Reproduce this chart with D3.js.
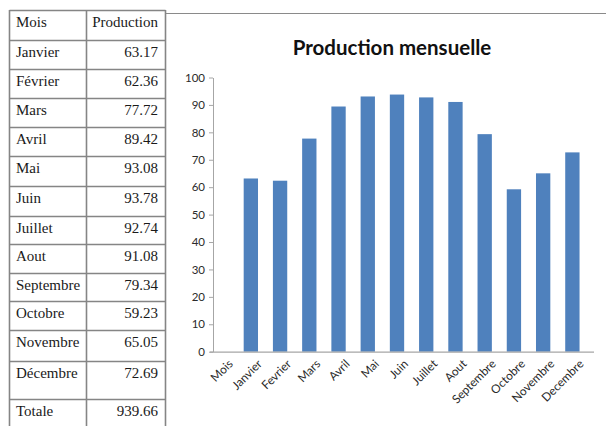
<!DOCTYPE html>
<html lang="fr">
<head>
<meta charset="utf-8">
<script src="https://cdn.jsdelivr.net/npm/d3@7"></script>
<style>
  html, body { margin: 0; padding: 0; background: #fff; }
  svg { display: block; }
</style>
</head>
<body>
<svg id="page" width="606" height="426"></svg>
<script>
// Monthly production: table on the left, column chart on the right.
const tableMonths = ["Janvier", "Février", "Mars", "Avril", "Mai", "Juin",
  "Juillet", "Aout", "Septembre", "Octobre", "Novembre", "Décembre"];
const production = [63.17, 62.36, 77.72, 89.42, 93.08, 93.78,
  92.74, 91.08, 79.34, 59.23, 65.05, 72.69];
const tableHeader = ["Mois", "Production"];
const totalLabel = "Totale";

// The chart's category axis also carries the header cell "Mois" (no value).
const chartCategories = ["Mois", "Janvier", "Fevrier", "Mars", "Avril", "Mai",
  "Juin", "Juillet", "Aout", "Septembre", "Octobre", "Novembre", "Decembre"];
const chartValues = [null].concat(production);
const yTickValues = [0, 10, 20, 30, 40, 50, 60, 70, 80, 90, 100];
const chartTitle = "Production mensuelle";

const svg = d3.select("#page");
svg.append("rect").attr("width", 606).attr("height", 426).attr("fill", "#fff");

// ---------- table ----------
const colX = [9.5, 86.5, 165.5];
const rowTops = [10, 40, 69, 98, 127, 156, 186, 216, 244, 273, 301, 330, 361, 399, 432];
const rows = [tableHeader]
  .concat(tableMonths.map((m, i) => [m, production[i].toFixed(2)]))
  .concat([[totalLabel, d3.sum(production).toFixed(2)]]);

const table = svg.append("g").attr("class", "table");
const lineColor = "#858585";

rowTops.forEach(t => {
  table.append("line")
    .attr("x1", colX[0]).attr("x2", colX[2])
    .attr("y1", t + 0.5).attr("y2", t + 0.5)
    .attr("stroke", lineColor).attr("stroke-width", 1.6);
});
colX.forEach(cx => {
  table.append("line")
    .attr("x1", cx).attr("x2", cx)
    .attr("y1", rowTops[0]).attr("y2", 426)
    .attr("stroke", lineColor).attr("stroke-width", 1.6);
});

const cellFont = "'Liberation Serif', 'Times New Roman', serif";
rows.forEach((r, i) => {
  const base = rowTops[i] + 17;
  table.append("text")
    .attr("x", 16).attr("y", base)
    .attr("font-family", cellFont).attr("font-size", 15)
    .attr("fill", "#1a1a1a")
    .text(r[0]);
  table.append("text")
    .attr("x", 158).attr("y", base)
    .attr("text-anchor", "end")
    .attr("font-family", cellFont).attr("font-size", 15)
    .attr("fill", "#1a1a1a")
    .text(r[1]);
});

// ---------- chart ----------
const chart = svg.append("g").attr("class", "chart");
chart.append("line")
  .attr("x1", 166).attr("x2", 606)
  .attr("y1", 13.5).attr("y2", 13.5)
  .attr("stroke", "#8a8a8a").attr("stroke-width", 1.2);

const chartFont = "Lato, 'Open Sans', sans-serif";
chart.append("text")
  .attr("x", 392).attr("y", 54.5)
  .attr("text-anchor", "middle")
  .attr("font-family", chartFont).attr("font-weight", 700)
  .attr("font-size", 20.5).attr("fill", "#111")
  .text(chartTitle);

const axisX = 213;
const y = d3.scaleLinear().domain([0, 100]).range([351.7, 77.5]);
const x = d3.scaleBand()
  .domain(chartCategories)
  .range([207, 587])
  .paddingInner(0.51)
  .paddingOuter(0.255);

// value axis
const yAxis = chart.append("g")
  .attr("transform", `translate(${axisX},0)`)
  .call(d3.axisLeft(y).tickValues(yTickValues).tickSize(4).tickSizeOuter(0).tickPadding(4));
yAxis.select(".domain").attr("stroke", "#a6a6a6");
yAxis.selectAll(".tick line").attr("stroke", "#a6a6a6");
yAxis.selectAll("text")
  .attr("font-family", chartFont).attr("font-size", 11.5).attr("fill", "#2b2b2b");

// bars
chart.append("g").selectAll("rect")
  .data(chartCategories.map((c, i) => ({ c, v: chartValues[i] })).filter(d => d.v != null))
  .join("rect")
  .attr("x", d => x(d.c))
  .attr("width", x.bandwidth())
  .attr("y", d => y(d.v))
  .attr("height", d => y(0) - y(d.v))
  .attr("fill", "#4f81bd");

// category axis
chart.append("line")
  .attr("x1", axisX - 3).attr("x2", x.range()[1] + 7)
  .attr("y1", y(0) + 0.5).attr("y2", y(0) + 0.5)
  .attr("stroke", "#a6a6a6").attr("stroke-width", 1.2);

const xAxis = chart.append("g")
  .attr("transform", `translate(0,${y(0)})`)
  .call(d3.axisBottom(x).tickSize(0).tickPadding(0));
xAxis.select(".domain").remove();
xAxis.selectAll(".tick text")
  .attr("font-family", chartFont).attr("font-size", 11.8).attr("fill", "#2b2b2b")
  .attr("text-anchor", "end")
  .attr("dy", "0.35em")
  .attr("transform", "translate(9,10) rotate(-45)");
</script>
</body>
</html>
